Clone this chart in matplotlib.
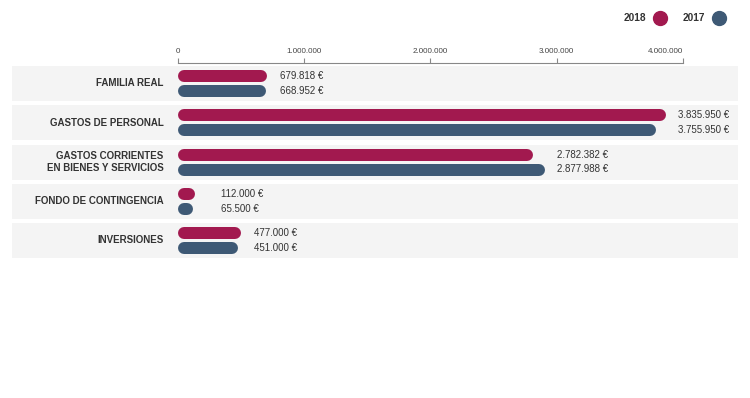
import matplotlib

matplotlib.use("Agg")
import matplotlib.pyplot as plt
from matplotlib.lines import Line2D

plt.rcParams["font.family"] = ["Liberation Sans", "DejaVu Sans"]

# data
categories = [
    "FAMILIA REAL",
    "GASTOS DE PERSONAL",
    "GASTOS CORRIENTES\nEN BIENES Y SERVICIOS",
    "FONDO DE CONTINGENCIA",
    "INVERSIONES",
]
values_2018 = [679818, 3835950, 2782382, 112000, 477000]
values_2017 = [668952, 3755950, 2877988, 65500, 451000]
series_labels = ["2018", "2017"]
tick_values = [0, 1000000, 2000000, 3000000, 4000000]

COLOR_2018 = "#a2194f"
COLOR_2017 = "#3e5975"
BAND = "#f4f4f4"
TEXT = "#333333"

W, H, DPI = 750, 398, 100
PX_PER_M = 126.3  # pixels per million on the x scale
X0_PX = 177.7


def fmt_num(v):
    return f"{v:,}".replace(",", ".")


fig = plt.figure(figsize=(W / DPI, H / DPI), dpi=DPI)
# axes spans the grey bands horizontally, x scale fixed by pixels
left_px, right_px = 12, 738
top_px, bot_px = 62.5, 262
ax = fig.add_axes([left_px / W, 1 - bot_px / H, (right_px - left_px) / W, (bot_px - top_px) / H])
xmin = -(X0_PX - left_px) / PX_PER_M * 1e6
xmax = (right_px - X0_PX) / PX_PER_M * 1e6
ax.set_xlim(xmin, xmax)
pitch = 39.25
ax.set_ylim(4 + (bot_px - 240.5) / pitch, -(83.5 - top_px) / pitch)
ax.patch.set_alpha(0)

px = 1e6 / PX_PER_M  # data units per pixel
bar_h_px = 12
r = bar_h_px / 2 * px
off = 7.5 / pitch
lw = bar_h_px * 72 / DPI

for i, (cat, v18, v17) in enumerate(zip(categories, values_2018, values_2017)):
    ax.axhspan(i - 17.5 / pitch, i + 17.5 / pitch, color=BAND, zorder=0, lw=0)
    for v, y, c in ((v18, i - off, COLOR_2018), (v17, i + off, COLOR_2017)):
        end = max(v + 3.5 * px - r, r + 3 * px)
        ax.plot([r, end], [y, y], color=c, lw=lw, solid_capstyle="round", zorder=2)
    lab_x = max(max(v18, v17), 220000) + 16 * px
    ax.text(lab_x, i - off, f"{fmt_num(v18)} €", va="center", ha="left", fontsize=7, color=TEXT)
    ax.text(lab_x, i + off, f"{fmt_num(v17)} €", va="center", ha="left", fontsize=7, color=TEXT)
    ax.text(-14 * px, i, cat, va="center", ha="right", fontsize=7, fontweight="bold",
            color=TEXT, linespacing=1.15)

# top axis
for s in ("left", "right", "bottom"):
    ax.spines[s].set_visible(False)
ax.spines["top"].set_bounds(tick_values[0], tick_values[-1])
ax.spines["top"].set_color("#888888")
ax.spines["top"].set_linewidth(0.8)
ax.xaxis.tick_top()
ax.set_xticks(tick_values)
ax.set_xticklabels([fmt_num(t) for t in tick_values], fontsize=5.8, color="#444444")
ax.tick_params(axis="x", length=3.6, width=0.8, color="#888888", pad=2)
ax.set_yticks([])
lbls = ax.get_xticklabels()
lbls[-1].set_horizontalalignment("right")

handles = [
    Line2D([], [], marker="o", ls="", markersize=10, color=COLOR_2018),
    Line2D([], [], marker="o", ls="", markersize=10, color=COLOR_2017),
]
leg = fig.legend(handles, series_labels, loc="center right", bbox_to_anchor=(726 / W, 1 - 18.3 / H),
                 ncol=2, frameon=False, markerfirst=False, handletextpad=0.7, columnspacing=1.45,
                 handlelength=1.4, borderpad=0, borderaxespad=0,
                 prop={"weight": "bold", "size": 7.3})
for t in leg.get_texts():
    t.set_color(TEXT)

fig.savefig("out.png", dpi=DPI)
